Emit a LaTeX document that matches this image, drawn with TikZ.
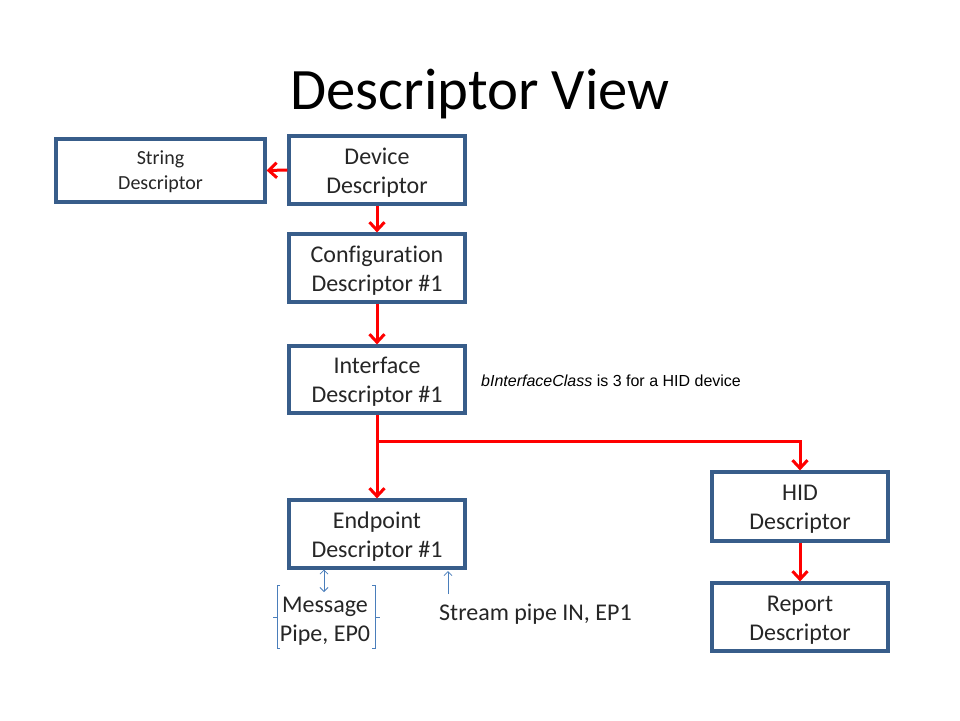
\documentclass[tikz,border=0pt]{standalone}
\usepackage{fontspec}
\setmainfont[Ligatures=NoCommon]{Carlito}
\newfontfamily\arialfont{Liberation Sans}
\usetikzlibrary{arrows.meta}
\definecolor{boxblue}{HTML}{385D8A}
\definecolor{thinblue}{HTML}{4A7EBB}
\definecolor{flowred}{HTML}{FF0000}
\begin{document}
\begin{tikzpicture}[x=1pt,y=-1pt,
  descbox/.style={draw=boxblue, line width=3.2pt, fill=white, inner sep=0pt,
    minimum width=176pt, minimum height=68pt, align=center,
    text height=50pt, text depth=4pt,
    font=\fontsize{24}{29}\selectfont, text=black!85},
  flow/.style={draw=flowred, line width=3pt,
    -{Straight Barb[length=8pt,width=15pt,line width=3pt]}},
  thin/.style={draw=thinblue, line width=0.8pt},
  plain/.style={inner sep=0pt, align=center, text=black!85,
    font=\fontsize{24}{29}\selectfont}]
\useasboundingbox (0,0) rectangle (960,720);
\fill[white] (0,0) rectangle (960,720);

% title
\node[plain, font=\fontsize{58.7}{70}\selectfont, text=black] (title) at (480,94) {Descriptor View};

% descriptor boxes
\node[descbox, minimum width=209pt, minimum height=63pt,
  text height=43pt, text depth=5pt,
  font=\fontsize{20}{25}\selectfont] (string) at (160.5,170.5) {String\\Descriptor};
\node[descbox] (device) at (377,170) {Device\\Descriptor};
\node[descbox] (config) at (377,268) {Configuration\\Descriptor \#1};
\node[descbox, minimum height=67pt] (iface) at (377,379.5) {Interface\\Descriptor \#1};
\node[descbox] (endp) at (377,534) {Endpoint\\Descriptor \#1};
\node[descbox, minimum height=69pt] (hid) at (800,506.5) {HID\\Descriptor};
\node[descbox] (report) at (800,617) {Report\\Descriptor};

% note beside the interface descriptor
\node[inner sep=0pt, anchor=west, font=\arialfont\fontsize{16}{19}\selectfont]
  (note) at (481,381) {\textit{bInterfaceClass} is 3 for a HID device};

% descriptor hierarchy
\coordinate (split) at (377,441);
\draw[flow] (device.west) -- (string.east);
\draw[flow] (device.south) -- (config.north);
\draw[flow] (config.south) -- (iface.north);
\draw[flow] (iface.south) -- (endp.north);
\draw[flow] (split) -| (hid.north);
\draw[flow] (hid.south) -- (report.north);

% pipe labels
\node[plain] (msg) at (325,621) {Message\\Pipe, EP0};
\node[plain, anchor=west] (stream) at (439,614) {Stream pipe IN, EP1};

% brackets around the message pipe label
\draw[thin] (280,585.5) -- (277,585.5) -- (277,648) -- (280,648)
  (277,617.5) -- (273,617.5);
\draw[thin] (372,585.5) -- (375,585.5) -- (375,648) -- (372,648)
  (375,617.5) -- (380,617.5);

% pipe arrows
\coordinate (msgtop) at (324,592);
\coordinate (streamtop) at (448,594);
\draw[thin, {Straight Barb[length=4pt,width=8pt]}-{Straight Barb[length=4pt,width=8pt]}]
  (324,569.5) -- (msgtop);
\draw[thin, -{Straight Barb[length=4pt,width=8pt]}] (streamtop) -- (448,571);
\end{tikzpicture}
\end{document}
